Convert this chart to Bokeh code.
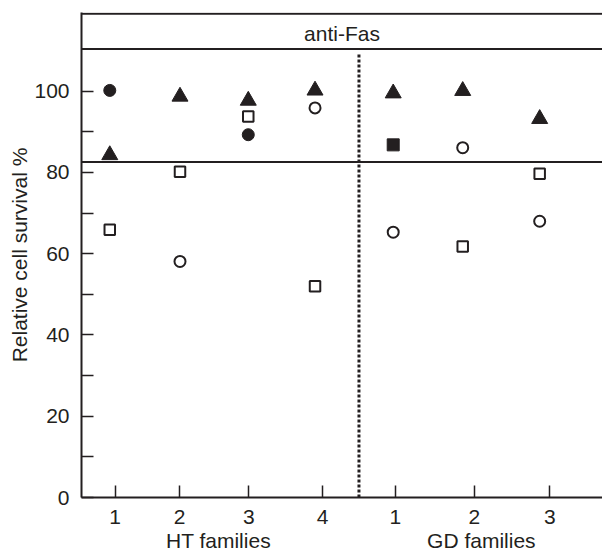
import math
from bokeh.plotting import figure
from bokeh.models import Range1d, FixedTicker, CustomJSTickFormatter, Label, Span, LinearAxis
from bokeh.embed import file_html
from bokeh.resources import INLINE

nan = float("nan")

# ---- data ----
family_labels = ["1", "2", "3", "4", "1", "2", "3"]
tick_x = [1.000, 1.888, 2.845, 3.863, 4.871, 5.959, 7.003]      # tick positions of the families
marker_x = [0.925, 1.895, 2.838, 3.760, 4.840, 5.800, 6.863]    # where each family's points sit
group_names = ["HT families", "GD families"]
group_label_x = [2.427, 6.057]

filled_triangle = [84.3, 98.7, 97.7, 100.2, 99.5, 100.1, 93.2]
open_square = [65.9, 80.2, 93.8, 52.0, nan, 61.8, 79.7]
open_circle = [nan, 58.1, nan, 95.9, 65.3, 86.1, 68.0]
filled_circle = [100.2, nan, 89.3, nan, nan, nan, nan]
filled_square = [nan, nan, nan, nan, 86.8, nan, nan]

threshold = 82.6
header_bottom = 110.4
header_top = 119.06
y_ticks = [0, 20, 40, 60, 80, 100]
y_minor = [10, 30, 50, 70, 90]

ink = "#231f20"
font = "Liberation Sans"

x_start, x_end = 0.5345, 7.7307
p = figure(width=602, height=558, x_range=Range1d(x_start, x_end), y_range=Range1d(0, 119.38),
           output_backend="svg", toolbar_location=None, title=None,
           min_border_left=81, min_border_right=0, min_border_top=12, min_border_bottom=61)
p.grid.visible = False
p.outline_line_color = None
p.background_fill_color = "white"
p.border_fill_color = "white"

for ax in (p.xaxis[0], p.yaxis[0]):
    ax.axis_line_color = ink
    ax.axis_line_width = 2
    ax.major_tick_line_color = ink
    ax.major_tick_line_width = 1.5
    ax.minor_tick_line_color = ink
    ax.minor_tick_line_width = 1.5
    ax.major_tick_in = 12
    ax.major_tick_out = 0
    ax.minor_tick_in = 12
    ax.minor_tick_out = 0
    ax.major_label_text_font = font
    ax.major_label_text_font_size = "21px"
    ax.major_label_text_color = ink

p.yaxis.ticker = FixedTicker(ticks=y_ticks, minor_ticks=y_minor)
p.yaxis.major_label_standoff = 12
p.yaxis.axis_label = "Relative cell survival %"
p.yaxis.axis_label_text_font = font
p.yaxis.axis_label_text_font_size = "21px"
p.yaxis.axis_label_text_font_style = "normal"
p.yaxis.axis_label_text_color = ink
p.yaxis.axis_label_standoff = 0

p.xaxis.ticker = FixedTicker(ticks=tick_x, minor_ticks=[])
p.xaxis.major_label_standoff = 12
p.xaxis.formatter = CustomJSTickFormatter(
    args=dict(pos=tick_x, labels=family_labels),
    code="""
const i = pos.findIndex(v => Math.abs(v - tick) < 1e-6);
return i >= 0 ? labels[i] : "";
""")

# second bottom axis carrying the group names
gaxis = LinearAxis(
    ticker=FixedTicker(ticks=group_label_x, minor_ticks=[]),
    formatter=CustomJSTickFormatter(
        args=dict(pos=group_label_x, labels=group_names),
        code="""
const i = pos.findIndex(v => Math.abs(v - tick) < 1e-6);
return i >= 0 ? labels[i] : "";
"""),
    axis_line_color=None, major_tick_line_color=None, minor_tick_line_color=None,
    major_tick_in=0, major_tick_out=0, minor_tick_in=0, minor_tick_out=0,
    major_label_standoff=2, major_label_text_font=font, major_label_text_font_size="21px",
    major_label_text_color=ink)
p.add_layout(gaxis, "below")

# frame lines
for loc in (header_top, header_bottom, threshold):
    p.add_layout(Span(location=loc, dimension="width", line_color=ink, line_width=2))

divider_x = (tick_x[3] + tick_x[4]) / 2
p.segment(x0=[divider_x], y0=[0], x1=[divider_x], y1=[109.3], line_color=ink,
          line_width=3, line_dash="3 2")

# markers
p.scatter(marker_x, filled_triangle, marker="triangle", size=16, fill_color=ink, line_color=ink, line_width=1)
p.scatter(marker_x, open_square, marker="square", size=10.5, fill_color="white", line_color=ink, line_width=2)
p.scatter(marker_x, open_circle, marker="circle", size=11, fill_color="white", line_color=ink, line_width=2)
p.scatter(marker_x, filled_circle, marker="circle", size=12, fill_color=ink, line_color=ink, line_width=1)
p.scatter(marker_x, filled_square, marker="square", size=12, fill_color=ink, line_color=ink, line_width=1)

# header text
p.add_layout(Label(x=(x_start + x_end) / 2, y=114.3, text="anti-Fas", text_align="center",
                   text_baseline="middle", text_font=font, text_font_size="21px", text_color=ink))

open("out.html", "w").write(file_html(p, INLINE))
